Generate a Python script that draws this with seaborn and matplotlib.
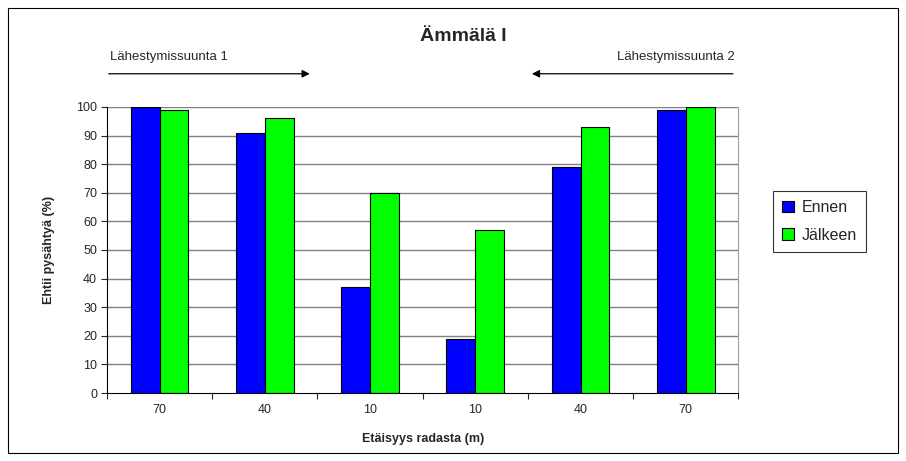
import matplotlib
matplotlib.use("Agg")
import matplotlib.pyplot as plt
import seaborn as sns
import pandas as pd
import numpy as np
from matplotlib.patches import Rectangle

categories = ["70", "40", "10", "10", "40", "70"]
ennen = [100, 91, 37, 19, 79, 99]
jalkeen = [99, 96, 70, 57, 93, 100]
series_names = ["Ennen", "Jälkeen"]
colors = ["#0000FF", "#00FF00"]

keys = [f"g{i}" for i in range(len(categories))]
df = pd.DataFrame({
    "key": keys * 2,
    "value": ennen + jalkeen,
    "series": [series_names[0]] * len(keys) + [series_names[1]] * len(keys),
})

sns.set_style("white")
plt.rcParams["font.family"] = ["Liberation Sans", "DejaVu Sans"]

fig = plt.figure(figsize=(9.06, 4.61), dpi=100)
ax = fig.add_axes([0.118, 0.1475, 0.697, 0.6205])

sns.barplot(data=df, x="key", y="value", hue="series", order=keys,
            hue_order=series_names, palette=colors, width=0.55,
            edgecolor="black", linewidth=0.8, ax=ax, legend=False, saturation=1)

ax.set_ylim(0, 100)
ax.set_xlim(-0.5, len(keys) - 0.5)
ax.set_yticks(np.arange(0, 101, 10))
ax.tick_params(axis="y", labelsize=9, length=4, width=0.8, direction="out", left=True, pad=3)
ax.set_xticks(range(len(keys)))
ax.set_xticklabels(categories, fontsize=9)
ax.tick_params(axis="x", which="major", length=0, pad=8)
ax.set_xticks(np.arange(-0.5, len(keys), 1), minor=True)
ax.tick_params(axis="x", which="minor", length=4, width=0.8, bottom=True)

for v in range(10, 101, 10):
    ax.axhline(v, color="#808080", lw=1.0, zorder=0)
ax.set_axisbelow(True)

ax.spines["left"].set_color("black")
ax.spines["bottom"].set_color("black")
ax.spines["right"].set_color("#A0A0A0")
ax.spines["top"].set_visible(False)
for s in ["left", "bottom"]:
    ax.spines[s].set_linewidth(0.8)

ax.set_xlabel("Etäisyys radasta (m)", fontsize=9, fontweight="bold", labelpad=12)
ax.set_ylabel("Ehtii pysähtyä (%)", fontsize=9, fontweight="bold", labelpad=15)

fig.text(0.511, 0.92, "Ämmälä I", ha="center", va="center", fontsize=14, fontweight="bold")

fig.text(0.121, 0.876, "Lähestymissuunta 1", ha="left", va="center", fontsize=9.5)
fig.text(0.811, 0.876, "Lähestymissuunta 2", ha="right", va="center", fontsize=9.5)
fig.add_artist(matplotlib.patches.FancyArrowPatch((0.117, 0.840), (0.345, 0.840),
               transform=fig.transFigure, arrowstyle="-|>,head_length=3,head_width=1.5",
               mutation_scale=1.5, color="black", lw=0.9))
fig.add_artist(matplotlib.patches.FancyArrowPatch((0.812, 0.840), (0.584, 0.840),
               transform=fig.transFigure, arrowstyle="-|>,head_length=3,head_width=1.5",
               mutation_scale=1.5, color="black", lw=0.9))

handles = [Rectangle((0, 0), 1, 1, facecolor=c, edgecolor="black", lw=0.8) for c in colors]
leg = fig.legend(handles, series_names, loc="upper left", bbox_to_anchor=(0.853, 0.585),
                 fontsize=11.5, frameon=True, fancybox=False, edgecolor="black",
                 handlelength=0.75, handleheight=0.75, handletextpad=0.5, labelspacing=0.8,
                 borderpad=0.55, borderaxespad=0)
leg.get_frame().set_linewidth(0.8)

fig.add_artist(Rectangle((0.009, 0.017), 0.982, 0.966, transform=fig.transFigure,
                         fill=False, edgecolor="black", lw=0.8))

fig.savefig("out.png", dpi=100)
